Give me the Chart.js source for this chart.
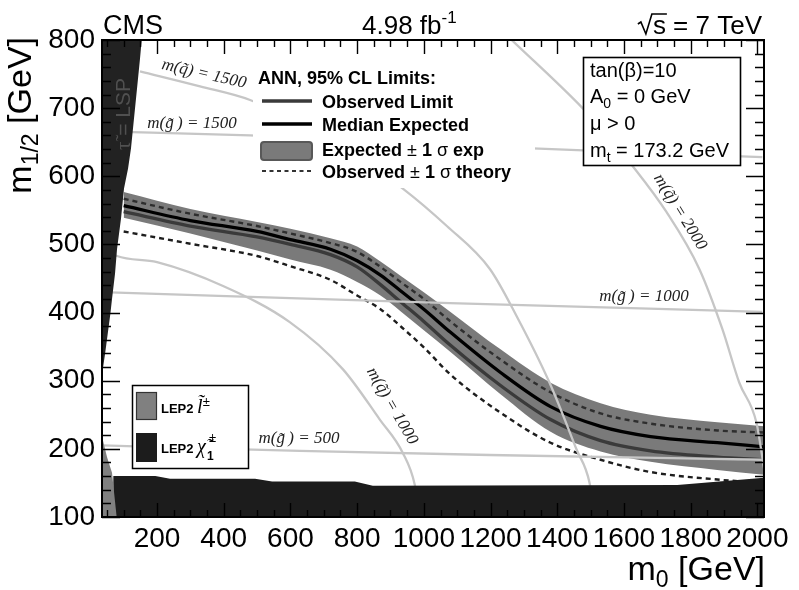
<!DOCTYPE html>
<html><head><meta charset="utf-8">
<script src="https://cdn.jsdelivr.net/npm/chart.js@4.4.1/dist/chart.umd.min.js"></script>
<style>html,body{margin:0;padding:0;background:#fff;}#wrap{width:799px;height:590px;}</style>
</head><body><div id="wrap"><canvas id="c" width="799" height="590"></canvas></div>
<script>
// ---------- data ----------
const xTicks = [200,400,600,800,1000,1200,1400,1600,1800,2000];
const yTicks = [100,200,300,400,500,600,700,800];

const m0Grid        = [100,300,500,600,720,800,870,930,1000,1080,1230,1380,1530,1680,1880,2020];
const expectedLimit = [557,535,519,507,493,476,455,432,405,371,312,262,233,218,209,203];
const observedLimit = [548,527,511,500,485,467,441,416,387,352,293,243,212,197,188,184];
const expBandUp     = [577,552,533,523,509,497,475,454,430,401,346,297,267,250,239,233];
const expBandDown   = [539,516,491,478,463,445,425,402,374,342,280,225,196,181,169,162];
const theoryUp      = [567,545,527,516,502,489,467,445,420,387,331,283,252,237,227,224];
const theoryDown    = [519,501,483,468,448,425,405,380,349,309,253,209,184,166,155,150];

const sq1000M0  = [36,80,200,398,598,757,868,937,973,988];
const sq1000M12 = [496,483,474,439,386,317,243,194,147,100];
const sq1500M0  = [149,329,479,719,937,1069,1198,1278,1377,1458,1497,1512];
const sq1500M12 = [754,732,712,656,582,527,464,395,297,199,150,100];
const sq2000M0  = [1257,1476,1557,1623,1727,1826,1895,1946,1997,2021];
const sq2000M12 = [803,700,656,617,548,464,376,297,239,169];
const gl500M0   = [36,628,1197,2015];
const gl500M12  = [205,197,191,184];
const gl1000M0  = [36,1078,2015];
const gl1000M12 = [430,414,401];
const gl1500M0  = [36,479,1326,2015];
const gl1500M12 = [666,660,641,628];

const lspM0  = [30,155,149,140,131,122,113,101,92,80,74,65,60,50,44,35,30,30];
const lspM12 = [805,805,773,729,685,641,611,582,538,493,457,420,398,361,339,309,305,805];
const slepM0  = [30,35,50,65,80,30,30];
const slepM12 = [218,218,188,165,95,95,218];
const charM0  = [69,195,239,494,545,793,847,1760,2030,2030,69,69];
const charM12 = [160,160,156,156,152,152,146,147,158,95,95,160];

// ---------- helpers ----------
const pts = (xs, ys) => xs.map((v, i) => ({x: v, y: ys[i]}));
const SANS = '"Liberation Sans", Arial, Helvetica, sans-serif';
const SERIF = '"Liberation Serif", "Times New Roman", serif';
const CONTOUR = '#c6c6c6';

function line(data, color, width, order, dash) {
  return {data, showLine: true, borderColor: color, borderWidth: width, borderDash: dash || [],
    pointRadius: 0, pointHoverRadius: 0, fill: false, cubicInterpolationMode: 'monotone', order};
}
function poly(data, color, order) {
  return {data, showLine: true, borderColor: 'rgba(0,0,0,0)', borderWidth: 1, backgroundColor: color,
    pointRadius: 0, pointHoverRadius: 0, fill: 'shape', tension: 0, order};
}

const datasets = [];
datasets.push(poly(pts(slepM0, slepM12), '#808080', 1));
datasets.push(poly(pts(charM0, charM12), '#1c1c1c', 2));
datasets.push(poly(pts(lspM0, lspM12), '#222222', 3));
[[sq1000M0,sq1000M12],[sq1500M0,sq1500M12],[sq2000M0,sq2000M12],
 [gl500M0,gl500M12],[gl1000M0,gl1000M12],[gl1500M0,gl1500M12]].forEach(c =>
  datasets.push(line(pts(c[0], c[1]), CONTOUR, 2.3, 5)));
datasets.push(line(pts(m0Grid, expectedLimit), '#000000', 3.3, 7));
datasets.push(line(pts(m0Grid, observedLimit), '#3a3a3a', 3.3, 8));
datasets.push(line(pts(m0Grid, theoryUp), '#2e2e2e', 2.4, 9, [5,4]));
datasets.push(line(pts(m0Grid, theoryDown), '#1e1e1e', 2.4, 9, [5,4]));
const bandDownIndex = datasets.length;
datasets.push(line(pts(m0Grid, expBandDown), 'rgba(0,0,0,0)', 1, 10));
const bandUp = line(pts(m0Grid, expBandUp), 'rgba(0,0,0,0)', 1, 11);
bandUp.fill = bandDownIndex; bandUp.backgroundColor = '#7a7a7a';
datasets.push(bandUp);

// ---------- text helpers ----------
function rich(ctx, x, y, parts, align) {
  let w = 0;
  parts.forEach(p => { ctx.font = p.f; p.w = ctx.measureText(p.t).width; w += p.w; });
  let cx = align === 'right' ? x - w : align === 'center' ? x - w / 2 : x;
  ctx.textAlign = 'left';
  parts.forEach(p => { ctx.font = p.f; ctx.fillText(p.t, cx, y + (p.dy || 0)); cx += p.w; });
  return w;
}
function rotText(ctx, t, cx, cy, deg, font, color) {
  ctx.save(); ctx.translate(cx, cy); ctx.rotate(deg * Math.PI / 180);
  ctx.font = font; ctx.fillStyle = color; ctx.textAlign = 'center'; ctx.textBaseline = 'middle';
  ctx.fillText(t, 0, 0); ctx.restore();
}

const deco = {
  id: 'deco',
  afterDatasetsDraw(chart) {
    const {ctx, chartArea: a, scales: {x, y}} = chart;
    ctx.save();
    // contour labels
    const lf = 'italic 17px ' + SERIF, lc = '#222';
    rotText(ctx, 'm(q\u0303) = 1500', 204, 74, 13, lf, lc);
    rotText(ctx, 'm(g\u0303\u2009) = 1500', 192, 124, 0, lf, lc);
    rotText(ctx, 'm(q\u0303) = 2000', 680, 212, 58, lf, lc);
    rotText(ctx, 'm(g\u0303\u2009) = 1000', 644, 297, 0, lf, lc);
    rotText(ctx, 'm(q\u0303) = 1000', 392, 406, 60, lf, lc);
    rotText(ctx, 'm(g\u0303\u2009) = 500', 299, 439, 0, lf, lc);
    // LSP label
    ctx.save(); ctx.translate(130, 150); ctx.rotate(-Math.PI / 2);
    ctx.fillStyle = '#505050'; ctx.textBaseline = 'alphabetic';
    rich(ctx, 0, 0, [{t: '\u03c4\u0303', f: '21px ' + SERIF}, {t: ' = LSP', f: '21px ' + SANS}], 'left');
    ctx.restore();

    // frame
    ctx.strokeStyle = '#000'; ctx.lineWidth = 2;
    ctx.strokeRect(a.left, a.top, a.right - a.left, a.bottom - a.top);
    // ticks
    ctx.lineWidth = 1.4;
    const xs = xTicks[1] - xTicks[0], ys = yTicks[1] - yTicks[0];
    ctx.beginPath();
    for (let v = xTicks[0] - xs; v <= x.max; v += xs / 4) {
      if (v < x.min) continue;
      const major = Math.abs((v / xs) - Math.round(v / xs)) < 1e-6;
      const L = major ? 14 : 7, px = Math.round(x.getPixelForValue(v)) + 0.5;
      ctx.moveTo(px, a.bottom); ctx.lineTo(px, a.bottom - L);
      ctx.moveTo(px, a.top); ctx.lineTo(px, a.top + L);
    }
    for (let v = yTicks[0]; v <= y.max + 1e-6; v += ys / 5) {
      const major = Math.abs((v / ys) - Math.round(v / ys)) < 1e-6;
      const L = major ? 18 : 9, py = Math.round(y.getPixelForValue(v)) + 0.5;
      ctx.moveTo(a.left, py); ctx.lineTo(a.left + L, py);
      ctx.moveTo(a.right, py); ctx.lineTo(a.right - L, py);
    }
    ctx.stroke();

    // main legend
    ctx.fillStyle = '#fff'; ctx.fillRect(253, 66, 282, 122);
    ctx.fillStyle = '#000'; ctx.textBaseline = 'alphabetic';
    const B = 'bold 18px ' + SANS, R = '18px ' + SANS;
    rich(ctx, 258, 84, [{t: 'ANN, 95% CL Limits:', f: B}], 'left');
    ctx.lineWidth = 3.5; ctx.setLineDash([]);
    ctx.strokeStyle = '#3a3a3a'; ctx.beginPath(); ctx.moveTo(262, 101); ctx.lineTo(312, 101); ctx.stroke();
    ctx.strokeStyle = '#000'; ctx.beginPath(); ctx.moveTo(262, 124); ctx.lineTo(312, 124); ctx.stroke();
    ctx.fillStyle = '#7a7a7a'; ctx.strokeStyle = '#585858'; ctx.lineWidth = 2;
    ctx.beginPath(); ctx.roundRect(261, 142, 51, 18, 3); ctx.fill(); ctx.stroke();
    ctx.strokeStyle = '#333'; ctx.lineWidth = 1.8; ctx.setLineDash([4, 3.5]);
    ctx.beginPath(); ctx.moveTo(262, 171); ctx.lineTo(312, 171); ctx.stroke(); ctx.setLineDash([]);
    ctx.fillStyle = '#000';
    rich(ctx, 322, 108, [{t: 'Observed Limit', f: B}], 'left');
    rich(ctx, 322, 131, [{t: 'Median Expected', f: B}], 'left');
    rich(ctx, 322, 156, [{t: 'Expected', f: B}, {t: ' \u00b1 ', f: R}, {t: '1', f: B}, {t: ' \u03c3 ', f: R}, {t: 'exp', f: B}], 'left');
    rich(ctx, 322, 178, [{t: 'Observed', f: B}, {t: ' \u00b1 ', f: R}, {t: '1', f: B}, {t: ' \u03c3 ', f: R}, {t: 'theory', f: B}], 'left');

    // parameter box
    ctx.fillStyle = '#fff'; ctx.fillRect(583, 57, 157, 108);
    ctx.strokeStyle = '#000'; ctx.lineWidth = 1.6; ctx.strokeRect(583.5, 57.5, 157, 108);
    ctx.fillStyle = '#000';
    const P = '20px ' + SANS, Ps = '14px ' + SANS;
    rich(ctx, 590, 77, [{t: 'tan(\u03b2)=10', f: P}], 'left');
    rich(ctx, 590, 103, [{t: 'A', f: P}, {t: '0', f: Ps, dy: 5}, {t: ' = 0 GeV', f: P}], 'left');
    rich(ctx, 590, 130, [{t: '\u03bc > 0', f: P}], 'left');
    rich(ctx, 590, 157, [{t: 'm', f: P}, {t: 't', f: Ps, dy: 5}, {t: ' = 173.2 GeV', f: P}], 'left');

    // LEP legend
    ctx.fillStyle = '#fff'; ctx.fillRect(132, 385, 116, 83);
    ctx.strokeStyle = '#000'; ctx.lineWidth = 1.5; ctx.strokeRect(132.5, 385.5, 116, 83);
    ctx.fillStyle = '#808080'; ctx.fillRect(136, 392, 21, 28);
    ctx.strokeStyle = '#333'; ctx.lineWidth = 1.2; ctx.strokeRect(136.5, 392.5, 20, 27);
    ctx.fillStyle = '#1c1c1c'; ctx.fillRect(136, 433, 21, 29);
    ctx.fillStyle = '#000';
    rich(ctx, 161, 413, [{t: 'LEP2 ', f: 'bold 13px ' + SANS}, {t: 'l\u0303', f: 'italic 20px ' + SERIF}, {t: '\u00b1', f: '13px ' + SANS, dy: -7}], 'left');
    rich(ctx, 161, 453, [{t: 'LEP2 ', f: 'bold 13px ' + SANS}, {t: '\u03c7\u0303', f: 'italic 20px ' + SERIF}], 'left');
    ctx.font = 'bold 12px ' + SANS; ctx.fillText('1', 207, 460);
    ctx.font = '13px ' + SANS; ctx.fillText('\u00b1', 209, 442);

    // top texts
    ctx.textBaseline = 'alphabetic';
    rich(ctx, 103, 34, [{t: 'CMS', f: '27px ' + SANS}], 'left');
    rich(ctx, 362, 34, [{t: '4.98 fb', f: '26px ' + SANS}, {t: '-1', f: '17px ' + SANS, dy: -11}], 'left');
    const w = rich(ctx, 762, 34, [{t: 's = 7 TeV', f: '26px ' + SANS}], 'right');
    const sx = 762 - w;
    ctx.strokeStyle = '#000'; ctx.lineWidth = 1.6; ctx.beginPath();
    ctx.moveTo(sx - 15, 24); ctx.lineTo(sx - 12, 22); ctx.lineTo(sx - 7, 34); ctx.lineTo(sx - 1, 14); ctx.lineTo(sx + 14, 14);
    ctx.stroke();

    // axis titles
    rich(ctx, 765, 580, [{t: 'm', f: '34px ' + SANS}, {t: '0', f: '23px ' + SANS, dy: 7}, {t: ' [GeV]', f: '34px ' + SANS}], 'right');
    ctx.save(); ctx.translate(31, 37); ctx.rotate(-Math.PI / 2);
    rich(ctx, 0, 0, [{t: 'm', f: '34px ' + SANS}, {t: '1/2', f: '23px ' + SANS, dy: 7}, {t: ' [GeV]', f: '34px ' + SANS}], 'right');
    ctx.restore();
    ctx.restore();
  }
};

new Chart(document.getElementById('c'), {
  type: 'scatter',
  data: {datasets},
  options: {
    responsive: false, animation: false, devicePixelRatio: 1, events: [],
    layout: {padding: {left: 0, right: 35, top: 40, bottom: 0}},
    plugins: {legend: {display: false}, tooltip: {enabled: false}, title: {display: false}},
    scales: {
      x: {type: 'linear', min: 35, max: 2020,
        grid: {display: false, drawTicks: false}, border: {display: false},
        ticks: {color: '#000', font: {family: SANS, size: 28}, padding: 5, autoSkip: false, maxRotation: 0,
          callback: v => String(v)},
        afterBuildTicks: s => { s.ticks = xTicks.map(v => ({value: v})); },
        afterFit: s => { s.height = 73; }},
      y: {type: 'linear', min: 100, max: 800,
        grid: {display: false, drawTicks: false}, border: {display: false},
        ticks: {color: '#000', font: {family: SANS, size: 28}, padding: 7, autoSkip: false,
          callback: v => String(v)},
        afterBuildTicks: s => { s.ticks = yTicks.map(v => ({value: v})); },
        afterFit: s => { s.width = 102; }}
    }
  },
  plugins: [deco]
});
</script></body></html>
